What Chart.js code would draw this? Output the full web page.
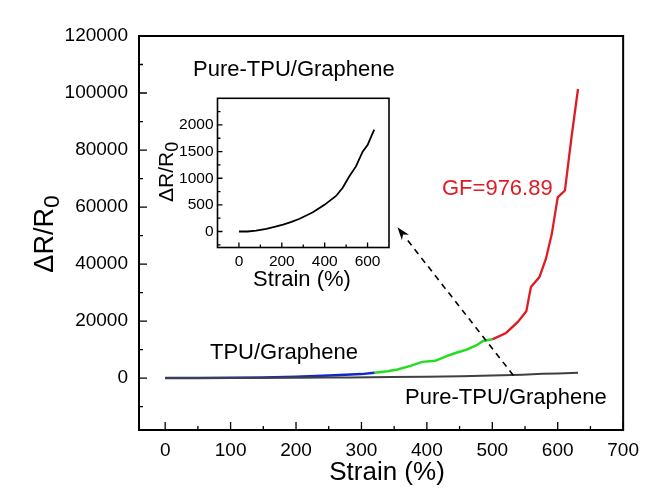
<!DOCTYPE html>
<html>
<head>
<meta charset="utf-8">
<script src="https://cdn.jsdelivr.net/npm/chart.js@4.4.1/dist/chart.umd.min.js"></script>
<style>
  html, body { margin: 0; padding: 0; background: #fff; }
  #wrap { position: relative; width: 648px; height: 499px; }
  #mainChart { position: absolute; left: 0; top: 0; }
  #insetChart { position: absolute; left: 150px; top: 85px; }
</style>
</head>
<body>
<div id="wrap">
  <canvas id="mainChart" width="648" height="499"></canvas>
  <canvas id="insetChart" width="250" height="215"></canvas>
</div>
<script>
const FONT = 'Arial, "Liberation Sans", sans-serif';

// Pure-TPU/Graphene (black curve, also shown in the inset)
const pureStrain = [0, 40, 80, 128, 170, 206, 245, 283, 345, 399, 453, 484, 515, 546, 577, 600, 631];
const pureValue  = [0, 0, 15, 50, 90, 130, 180, 240, 360, 500, 667, 820, 1037, 1222, 1500, 1623, 1913];

// TPU/Graphene, split in three coloured parts
const blueStrain  = [0, 50, 100, 150, 200, 250, 300, 320];
const blueValue   = [0, 50, 150, 250, 500, 900, 1400, 1850];
const greenStrain = [320, 340, 355, 375, 393, 413, 430, 446, 461, 476, 486, 500];
const greenValue  = [1850, 2400, 3000, 4300, 5700, 6050, 7700, 9000, 10000, 11550, 13050, 13600];
const redStrain   = [500, 521, 539, 552, 559, 572, 582, 591, 600, 611, 621, 631];
const redValue    = [13600, 15850, 19700, 23450, 31950, 35450, 41900, 50600, 63400, 65800, 84400, 101400];

// tick labels
const xTicksMain  = [0, 100, 200, 300, 400, 500, 600, 700];
const yTicksMain  = [0, 20000, 40000, 60000, 80000, 100000, 120000];
const xTicksInset = [0, 200, 400, 600];
const yTicksInset = [0, 500, 1000, 1500, 2000];

function pts(xs, ys) {
    return xs.map((x, i) => ({ x: x, y: ys[i] }));
}

function drawRatio(ctx, bx, cy, size) {
    // rotated "ΔR/R0" with subscript, bx = baseline x
    ctx.save();
    ctx.translate(bx, cy);
    ctx.rotate(-Math.PI / 2);
    ctx.fillStyle = "#000";
    ctx.textAlign = "left";
    ctx.textBaseline = "alphabetic";
    const sub = size * 0.85;
    ctx.font = size + "px " + FONT;
    const w1 = ctx.measureText("ΔR/R").width;
    ctx.font = sub + "px " + FONT;
    const w2 = ctx.measureText("0").width;
    const start = -(w1 + w2) / 2;
    ctx.font = size + "px " + FONT;
    ctx.fillText("ΔR/R", start, 0);
    ctx.font = sub + "px " + FONT;
    ctx.fillText("0", start + w1, size * 0.22);
    ctx.restore();
}

function frameTicks(major, minorX, minorY, majLen, minLen, lw) {
    return {
        id: "frameTicks",
        afterDatasetsDraw(chart) {
            const { ctx, chartArea: a, scales: { x, y } } = chart;
            ctx.save();
            ctx.strokeStyle = "#000";
            ctx.lineWidth = lw;
            ctx.strokeRect(a.left, a.top, a.right - a.left, a.bottom - a.top);
            ctx.lineWidth = 1.3;
            ctx.beginPath();
            major.x.forEach(v => {
                const px = x.getPixelForValue(v);
                ctx.moveTo(px, a.bottom); ctx.lineTo(px, a.bottom - majLen);
            });
            minorX.forEach(v => {
                const px = x.getPixelForValue(v);
                ctx.moveTo(px, a.bottom); ctx.lineTo(px, a.bottom - minLen);
            });
            major.y.forEach(v => {
                const py = y.getPixelForValue(v);
                ctx.moveTo(a.left, py); ctx.lineTo(a.left + majLen, py);
            });
            minorY.forEach(v => {
                const py = y.getPixelForValue(v);
                ctx.moveTo(a.left, py); ctx.lineTo(a.left + minLen, py);
            });
            ctx.stroke();
            ctx.restore();
        }
    };
}

const mainLabels = {
    id: "mainLabels",
    afterDraw(chart) {
        const { ctx, scales: { x, y } } = chart;
        ctx.save();
        ctx.textBaseline = "middle";
        ctx.textAlign = "left";
        ctx.fillStyle = "#000";
        ctx.font = "22px " + FONT;
        ctx.fillText("TPU/Graphene", 210, 353);
        ctx.fillText("Pure-TPU/Graphene", 405, 398);
        ctx.fillText("Pure-TPU/Graphene", 193, 70);
        ctx.fillStyle = "#e01b24";
        ctx.fillText("GF=976.89", 442, 189);

        ctx.fillStyle = "#000";
        ctx.textAlign = "center";
        ctx.font = "26px " + FONT;
        ctx.fillText("Strain (%)", 387, 473);
        drawRatio(ctx, 53, 234, 27);

        // dashed arrow pointing to the inset
        const x0 = x.getPixelForValue(532), y0 = y.getPixelForValue(1000);
        const x1 = x.getPixelForValue(355), y1 = y.getPixelForValue(52900);
        const ang = Math.atan2(y1 - y0, x1 - x0);
        const head = 13;
        ctx.strokeStyle = "#000";
        ctx.lineWidth = 1.6;
        ctx.setLineDash([6, 5]);
        ctx.beginPath();
        ctx.moveTo(x0, y0);
        ctx.lineTo(x1 - Math.cos(ang) * head, y1 - Math.sin(ang) * head);
        ctx.stroke();
        ctx.setLineDash([]);
        ctx.beginPath();
        ctx.moveTo(x1, y1);
        ctx.lineTo(x1 - Math.cos(ang) * head + Math.sin(ang) * 4.5, y1 - Math.sin(ang) * head - Math.cos(ang) * 4.5);
        ctx.lineTo(x1 - Math.cos(ang) * head * 0.7, y1 - Math.sin(ang) * head * 0.7);
        ctx.lineTo(x1 - Math.cos(ang) * head - Math.sin(ang) * 4.5, y1 - Math.sin(ang) * head + Math.cos(ang) * 4.5);
        ctx.closePath();
        ctx.fillStyle = "#000";
        ctx.fill();
        ctx.restore();
    }
};

const insetLabels = {
    id: "insetLabels",
    afterDraw(chart) {
        const ctx = chart.ctx;
        ctx.save();
        ctx.fillStyle = "#000";
        ctx.textAlign = "center";
        ctx.textBaseline = "middle";
        ctx.font = "22px " + FONT;
        ctx.fillText("Strain (%)", 152, 195);
        drawRatio(ctx, 23, 87, 21);
        ctx.restore();
    }
};

function range(from, to, step, skip) {
    const out = [];
    for (let v = from; v <= to; v += step) {
        if (v % skip !== 0) out.push(v);
    }
    return out;
}

function axis(min, max, tickVals, size, pad, fit) {
    return {
        type: "linear",
        min: min,
        max: max,
        grid: { display: false, drawTicks: false },
        border: { display: false },
        ticks: {
            color: "#000",
            font: { family: FONT, size: size },
            padding: pad,
            maxRotation: 0,
            callback: v => String(v)
        },
        afterBuildTicks: s => { s.ticks = tickVals.map(v => ({ value: v })); },
        afterFit: fit
    };
}

new Chart(document.getElementById("mainChart").getContext("2d"), {
    type: "line",
    data: {
        datasets: [
            { data: pts(pureStrain, pureValue), borderColor: "#404040", borderWidth: 2 },
            { data: pts(blueStrain, blueValue), borderColor: "#1428c8", borderWidth: 2.5 },
            { data: pts(greenStrain, greenValue), borderColor: "#22dd22", borderWidth: 2.5 },
            { data: pts(redStrain, redValue), borderColor: "#e01b24", borderWidth: 2.3 }
        ]
    },
    options: {
        responsive: false,
        animation: false,
        layout: { padding: { top: 36, right: 20, left: 0, bottom: 0 } },
        plugins: { legend: { display: false }, tooltip: { enabled: false } },
        elements: { point: { radius: 0 }, line: { tension: 0 } },
        scales: {
            x: axis(-40, 700, xTicksMain, 19, 9, s => { s.height = 69; }),
            y: axis(-18200, 120000, yTicksMain, 19, 11, s => { s.width = 139; })
        }
    },
    plugins: [
        frameTicks({ x: xTicksMain, y: yTicksMain }, range(50, 650, 50, 100), range(-10000, 110000, 10000, 20000), 8, 4, 2),
        mainLabels
    ]
});

new Chart(document.getElementById("insetChart").getContext("2d"), {
    type: "line",
    data: {
        datasets: [
            { data: pts(pureStrain, pureValue), borderColor: "#000", borderWidth: 1.8 }
        ]
    },
    options: {
        responsive: false,
        animation: false,
        layout: { padding: { top: 10, right: 11, left: 0, bottom: 0 } },
        plugins: { legend: { display: false }, tooltip: { enabled: false } },
        elements: { point: { radius: 0 }, line: { tension: 0 } },
        scales: {
            x: axis(-100, 700, xTicksInset, 15.5, 5, s => { s.height = 52.5; }),
            y: axis(-300, 2500, yTicksInset, 15.5, 4, s => { s.width = 67.5; })
        }
    },
    plugins: [
        frameTicks({ x: xTicksInset, y: yTicksInset }, range(100, 500, 100, 200), range(-250, 2250, 250, 500), 5, 3, 1.6),
        insetLabels
    ]
});
</script>
</body>
</html>
